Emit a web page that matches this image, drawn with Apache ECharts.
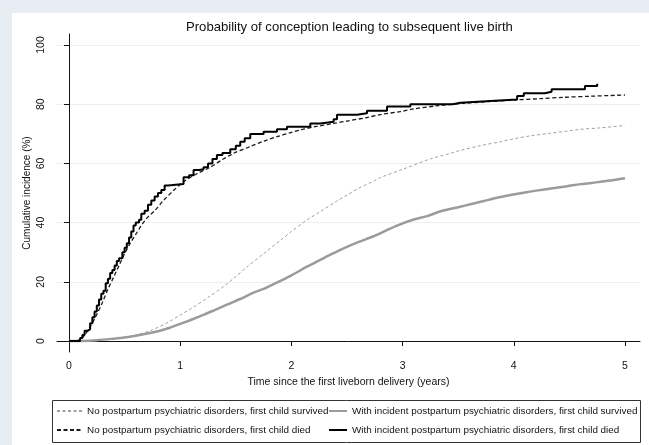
<!DOCTYPE html>
<html>
<head>
<meta charset="utf-8">
<script src="https://cdn.jsdelivr.net/npm/echarts@6/dist/echarts.min.js"></script>
<style>
  html, body { margin: 0; padding: 0; background: #e8edf4; }
  #chart { width: 649px; height: 445px; }
</style>
</head>
<body>
<div id="chart"></div>
<script>
  // [years, cumulative %]
  var noDisorderSurvived = [
    [0, 0], [0.1, 0.05], [0.25, 0.3], [0.4, 0.8], [0.5, 1.3], [0.6, 2], [0.75, 3.8], [0.9, 6.5],
    [1.0, 8.8], [1.1, 11], [1.25, 14.7], [1.4, 18.7], [1.5, 21.8], [1.6, 25], [1.75, 29.5],
    [1.9, 34], [2.0, 37], [2.14, 40.9], [2.25, 43.5], [2.41, 47.3], [2.5, 49.3], [2.6, 51.5],
    [2.75, 54.2], [2.8, 55.2], [3.0, 58], [3.25, 61.5], [3.43, 63.4], [3.5, 64.2], [3.7, 66],
    [3.88, 67.3], [4.0, 68.3], [4.15, 69.3], [4.33, 70.2], [4.5, 71], [4.6, 71.5], [4.78, 72], [5.0, 72.8]
  ];
  var incidentSurvived = [
    [0, 0], [0.1, 0.05], [0.25, 0.3], [0.4, 0.8], [0.5, 1.2], [0.6, 1.8], [0.75, 2.9], [0.82, 3.5],
    [0.9, 4.4], [1.0, 5.8], [1.1, 7.2], [1.22, 9.0], [1.3, 10.3], [1.42, 12.3], [1.54, 14.2],
    [1.65, 16.2], [1.75, 17.6], [1.84, 19.2], [2.0, 22.2], [2.14, 25.1], [2.3, 28.2], [2.44, 30.8],
    [2.6, 33.4], [2.74, 35.4], [2.85, 37.3], [2.95, 39], [3.08, 40.8], [3.22, 42.2], [3.35, 43.9],
    [3.5, 45.2], [3.62, 46.3], [3.73, 47.3], [3.85, 48.4], [3.97, 49.3], [4.1, 50.2], [4.2, 50.8],
    [4.35, 51.6], [4.48, 52.3], [4.6, 53], [4.7, 53.4], [4.78, 53.8], [4.9, 54.4], [5.0, 55]
  ];
  var noDisorderDied = [
    [0, 0], [0.05, 0], [0.1, 0.5], [0.15, 2.5], [0.2, 5.5], [0.25, 9], [0.3, 13], [0.35, 17.5],
    [0.4, 21.5], [0.45, 25.5], [0.5, 29.5], [0.55, 33], [0.6, 36], [0.65, 39], [0.7, 41.5],
    [0.77, 44], [0.85, 47.5], [0.93, 50.5], [1.03, 53.8], [1.15, 56.5], [1.27, 58.7], [1.38, 61.3],
    [1.48, 63.4], [1.63, 65.7], [1.75, 67.5], [1.87, 69], [2.0, 70.5], [2.08, 71.3], [2.2, 72.3],
    [2.38, 73.5], [2.5, 74.3], [2.68, 75.5], [2.8, 76.5], [2.98, 77.5], [3.1, 78.4], [3.3, 79.4],
    [3.55, 80.3], [3.75, 80.8], [4.0, 81.4], [4.25, 81.9], [4.44, 82.3], [4.7, 82.7], [5.0, 83.1]
  ];
  var incidentDied = [
    [0, 0], [0.08, 0], [0.1, 1], [0.12, 2], [0.14, 3.5], [0.17, 4], [0.19, 6], [0.21, 8], [0.23, 10],
    [0.25, 12], [0.27, 14], [0.29, 16], [0.31, 17], [0.33, 19.5], [0.35, 21], [0.37, 23], [0.39, 24],
    [0.41, 25.5], [0.43, 27], [0.45, 28], [0.48, 30], [0.5, 31.5], [0.52, 33], [0.54, 35], [0.56, 37],
    [0.58, 39], [0.6, 40], [0.63, 41], [0.65, 43], [0.68, 44], [0.71, 46], [0.74, 47.5], [0.77, 48.8],
    [0.8, 50], [0.83, 51], [0.86, 52.5], [0.89, 53], [1.03, 55.3], [1.08, 56], [1.12, 57.8], [1.17, 58],
    [1.21, 58.7], [1.25, 60], [1.29, 61.5], [1.33, 62.8], [1.38, 63.5], [1.45, 64.8], [1.5, 66],
    [1.54, 67.3], [1.58, 68.5], [1.63, 69.9], [1.75, 70.7], [1.87, 71.5], [1.96, 72.4], [2.17, 73.5],
    [2.26, 74.1], [2.38, 74.9], [2.41, 76.4], [2.59, 76.9], [2.68, 77.8], [2.86, 79.2], [3.07, 80],
    [3.45, 80.5], [3.52, 81.1], [3.79, 81.6], [4.03, 82.8], [4.09, 83.7], [4.28, 84.2], [4.34, 85],
    [4.64, 86.1], [4.75, 86.9]
  ];
  var xTicks = [0, 1, 2, 3, 4, 5];
  var yTicks = [0, 20, 40, 60, 80, 100];
  var seriesNames = [
    'No postpartum psychiatric disorders, first child survived',
    'With incident postpartum psychiatric disorders, first child survived',
    'No postpartum psychiatric disorders, first child died',
    'With incident postpartum psychiatric disorders, first child died'
  ];

  var font = '"Liberation Sans", Arial, sans-serif';
  var chart = echarts.init(document.getElementById('chart'));

  // legend only shows the line, no marker in the middle
  var legendBase = {
    orient: 'vertical', top: 406, padding: 0, itemGap: 9, itemHeight: 10,
    itemStyle: { opacity: 0, borderWidth: 0 },
    textStyle: { fontFamily: font, fontSize: 9.9, color: '#111' }
  };

  var option = {
    backgroundColor: '#e8edf4',
    animation: false,
    textStyle: { fontFamily: font },
    graphic: [
      { type: 'rect', z: -10, silent: true, shape: { x: 12, y: 13, width: 640, height: 440 },
        style: { fill: '#ffffff' } },
      { type: 'rect', z: 10, silent: true, shape: { x: 52.5, y: 400.5, width: 588, height: 42 },
        style: { fill: 'none', stroke: '#333', lineWidth: 1 } }
    ],
    title: {
      text: 'Probability of conception leading to subsequent live birth',
      left: 181, top: 16,
      textStyle: { fontFamily: font, fontSize: 13.1, fontWeight: 'normal', color: '#111' }
    },
    legend: [
      Object.assign({}, legendBase, { left: 56, itemWidth: 25, data: [seriesNames[0], seriesNames[2]] }),
      Object.assign({}, legendBase, { left: 328, itemWidth: 18, data: [seriesNames[1], seriesNames[3]] })
    ],
    grid: { left: 57, right: 9, top: 34, bottom: 93 },
    xAxis: {
      type: 'value', min: -0.108, max: 5.135,
      name: 'Time since the first liveborn delivery (years)',
      nameLocation: 'middle', nameGap: 17,
      nameTextStyle: { fontFamily: font, fontSize: 10.5, color: '#111' },
      axisLine: { show: true, lineStyle: { color: '#111', width: 1 } },
      axisTick: { show: true, customValues: xTicks, length: 5, lineStyle: { color: '#111' } },
      axisLabel: { customValues: xTicks, margin: 9, fontSize: 10.5, color: '#111', fontFamily: font },
      splitLine: { show: false }
    },
    yAxis: {
      type: 'value', min: -3.7, max: 103.7,
      name: 'Cumulative incidence (%)',
      nameLocation: 'middle', nameGap: 25, nameRotate: 90, nameMoveOverlap: false,
      nameTextStyle: { fontFamily: font, fontSize: 10, color: '#111' },
      axisLine: { show: true, lineStyle: { color: '#111', width: 1 } },
      axisTick: { show: true, customValues: yTicks, length: 5, lineStyle: { color: '#111' } },
      axisLabel: { customValues: yTicks, rotate: 90, margin: 10, fontSize: 10.5, color: '#111', fontFamily: font },
      splitLine: { show: true, lineStyle: { color: '#eaf0f2', width: 1 } }
    },
    series: [{
      name: seriesNames[0], type: 'line', data: noDisorderSurvived, smooth: 0.3, symbol: 'none', z: 2,
      lineStyle: { color: '#a0a0a0', width: 1, type: [3, 2.5] }, itemStyle: { color: '#a0a0a0' }
    }, {
      name: seriesNames[1], type: 'line', data: incidentSurvived, smooth: 0.3, symbol: 'none', z: 3,
      lineStyle: { color: '#9b9b9b', width: 2.5 }, itemStyle: { color: '#9b9b9b' }
    }, {
      name: seriesNames[2], type: 'line', data: noDisorderDied, smooth: 0.3, symbol: 'none', z: 4,
      lineStyle: { color: '#1a1a1a', width: 1.3, type: [4, 2.5] }, itemStyle: { color: '#1a1a1a' }
    }, {
      name: seriesNames[3], type: 'line', data: incidentDied, step: 'end', symbol: 'none', z: 5,
      lineStyle: { color: '#000', width: 2 }, itemStyle: { color: '#000' }
    }]
  };

  chart.setOption(option);
</script>
</body>
</html>
